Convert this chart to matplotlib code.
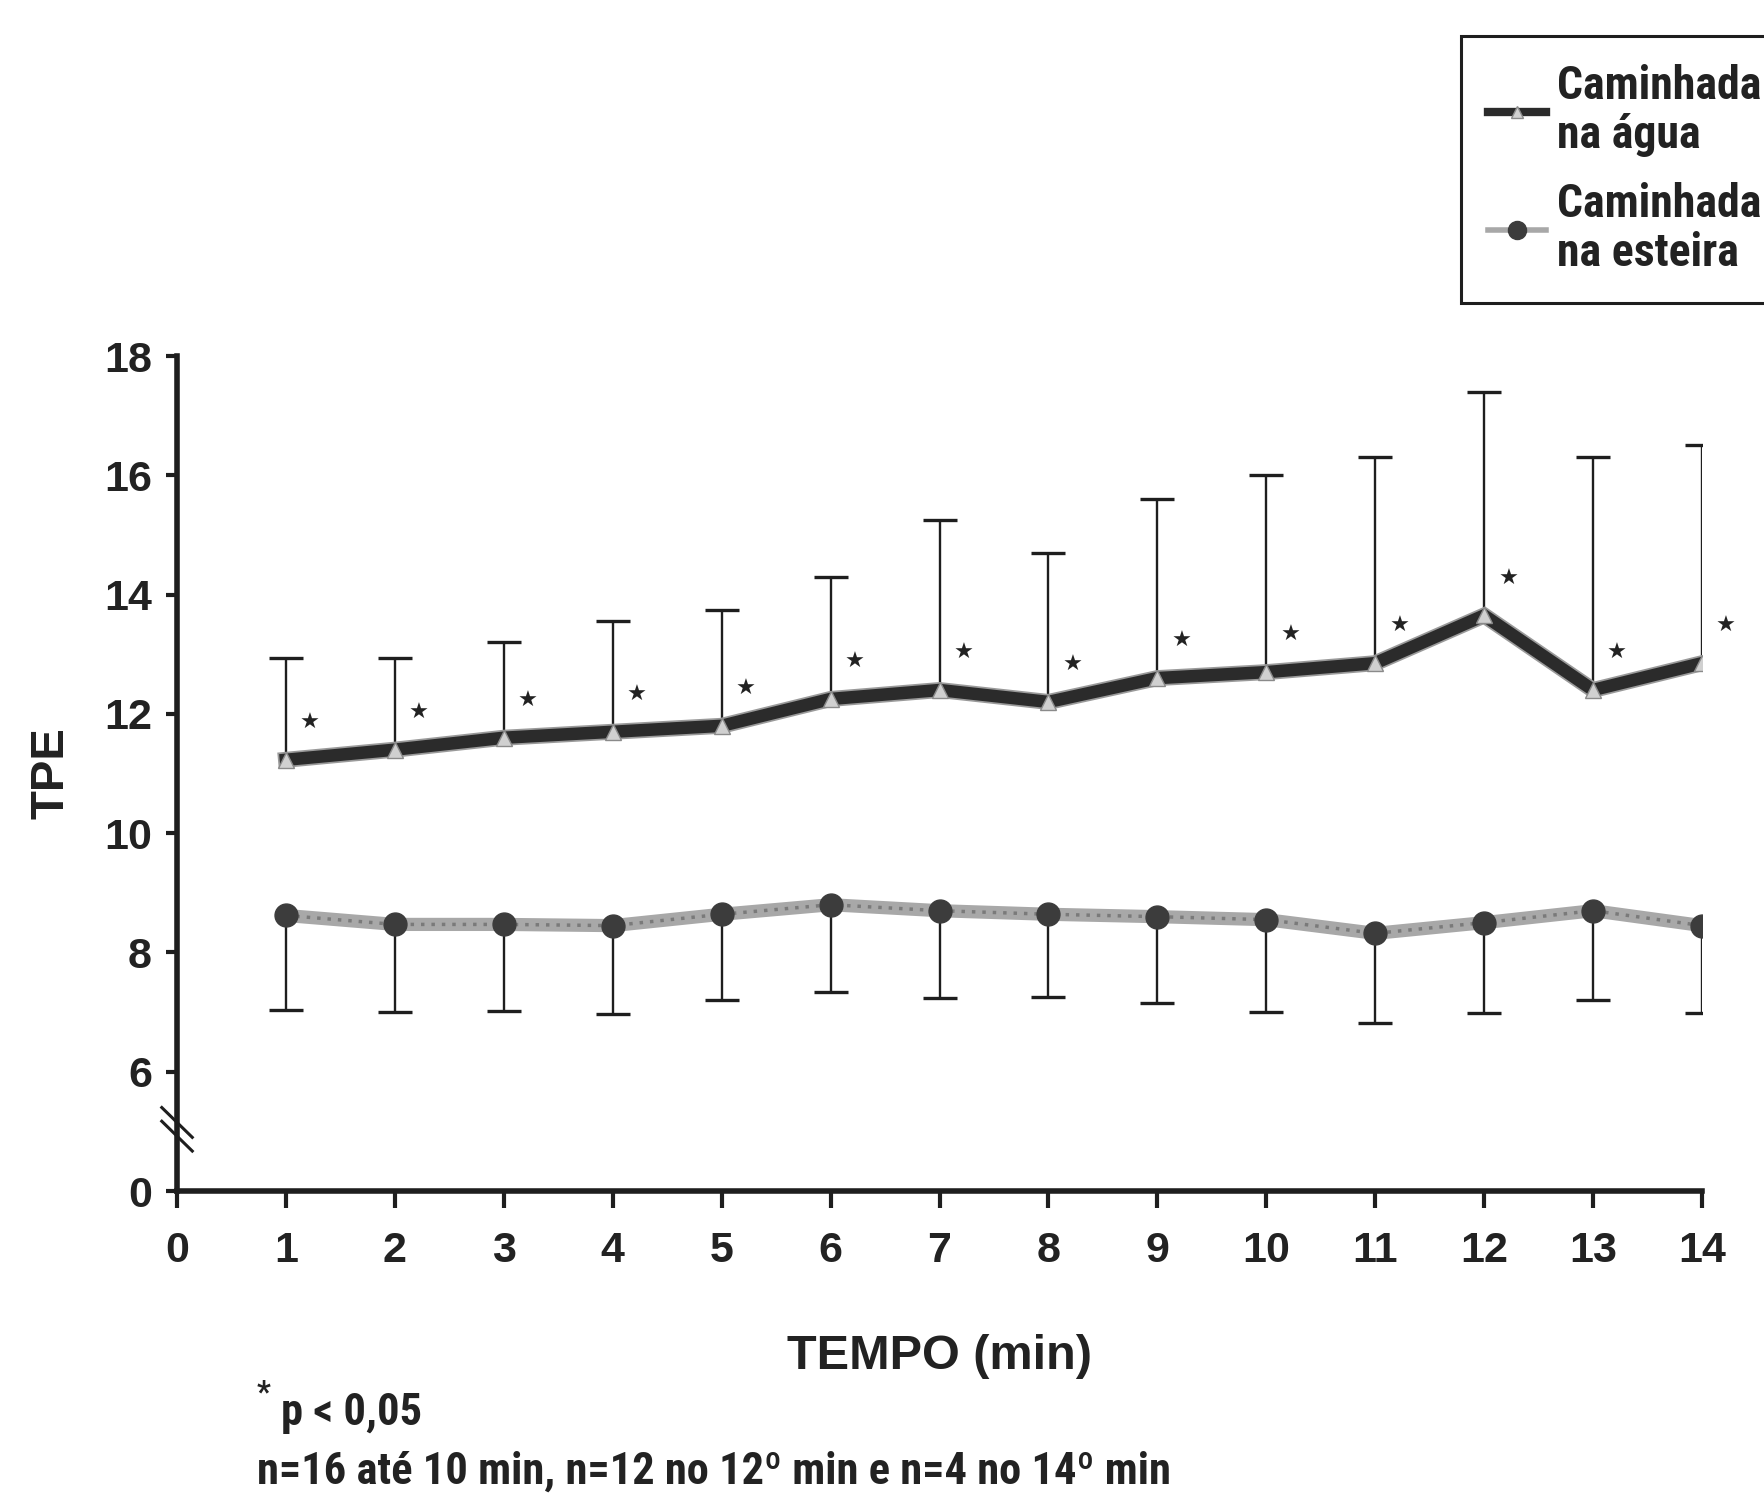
import matplotlib
matplotlib.use("Agg")
import matplotlib.pyplot as plt
from matplotlib.lines import Line2D
from matplotlib import font_manager

# pick a narrow font if installed (reference uses condensed Helvetica)
def pick(names):
    for n in names:
        try:
            font_manager.findfont(n, fallback_to_default=False)
            return n
        except Exception:
            pass
    return "DejaVu Sans"

NARROW = pick(["Liberation Sans Narrow", "Roboto Condensed", "Liberation Sans"])
REG = pick(["Liberation Sans", "DejaVu Sans"])

tempo = [1, 2, 3, 4, 5, 6, 7, 8, 9, 10, 11, 12, 13, 14]

agua_media = [11.23, 11.4, 11.6, 11.7, 11.8, 12.25, 12.4, 12.2, 12.6, 12.7, 12.85, 13.65, 12.4, 12.85]
agua_sup = [12.93, 12.93, 13.2, 13.55, 13.75, 14.3, 15.25, 14.7, 15.6, 16.0, 16.3, 17.4, 16.3, 16.5]

esteira_media = [8.62, 8.47, 8.47, 8.45, 8.64, 8.8, 8.7, 8.64, 8.6, 8.55, 8.32, 8.5, 8.7, 8.45]
esteira_inf = [7.04, 7.0, 7.02, 6.96, 7.2, 7.34, 7.23, 7.25, 7.15, 7.0, 6.81, 6.98, 7.2, 6.98]

# y positions: "0" is drawn where 4 would be (broken axis)
ytick_pos = [4, 6, 8, 10, 12, 14, 16, 18]
ytick_lab = ["0", "6", "8", "10", "12", "14", "16", "18"]
xticks = list(range(0, 15))

INK = "#1e1e1e"

fig = plt.figure(figsize=(17.65, 14.94), dpi=100)
ax = fig.add_axes([0.1003, 0.2028, 0.8640, 0.5589])

# one-sided error bars: stem + cap only at the far end
ax.vlines(tempo, agua_media, agua_sup, color=INK, lw=1.7, zorder=2)
ax.plot(tempo, agua_sup, ls="none", marker="_", ms=24, mew=2.4, color=INK, zorder=2)
ax.vlines(tempo, esteira_inf, esteira_media, color=INK, lw=1.7, zorder=2)
ax.plot(tempo, esteira_inf, ls="none", marker="_", ms=24, mew=2.4, color=INK, zorder=2)

# water walking: thick dark line with small hatched triangles
ax.plot(tempo, agua_media, color="#9a9a9a", lw=11.5, solid_joinstyle="miter", zorder=3)
ax.plot(tempo, agua_media, color="#2b2b2b", lw=9, solid_joinstyle="miter", zorder=4)
ax.plot(tempo, agua_media, ls="none", marker="^", ms=11, mfc="#d0d0d0",
        mec="#8a8a8a", mew=1.0, zorder=5)

# treadmill walking: light gray textured line with dark circles
ax.plot(tempo, esteira_media, color="#a8a8a8", lw=9.5, zorder=3)
ax.plot(tempo, esteira_media, color="#7a7a7a", lw=2.5, ls=(0, (1, 2)), zorder=3.5)
ax.plot(tempo, esteira_media, ls="none", marker="o", ms=16.5, mfc="#3c3c3c",
        mec="#3c3c3c", zorder=5)

# significance stars
for x, m in zip(tempo, agua_media):
    ax.text(x + 0.22, m + 0.62, "\u2605", fontsize=16, ha="center", va="center",
            color="#222222", family="DejaVu Sans", clip_on=False)

ax.set_xlim(0, 14)
ax.set_ylim(4, 18)
ax.set_xticks(xticks)
ax.set_xticklabels([str(t) for t in xticks])
ax.set_yticks(ytick_pos)
ax.set_yticklabels(ytick_lab)

for s in ["top", "right"]:
    ax.spines[s].set_visible(False)
ax.spines["left"].set_linewidth(4)
ax.spines["bottom"].set_linewidth(4)
ax.spines["left"].set_color(INK)
ax.spines["bottom"].set_color(INK)
ax.tick_params(axis="y", direction="out", length=8, width=3, pad=10, color=INK)
ax.tick_params(axis="x", direction="out", length=12, width=3, pad=17, color=INK)
for lab in ax.get_xticklabels() + ax.get_yticklabels():
    lab.set_fontfamily(REG)
    lab.set_fontsize(31)
    lab.set_fontweight("bold")
    lab.set_color("#222222")

# axis break marks
for yc in (5.15, 4.92):
    ax.plot([-0.14, 0.14], [yc + 0.25, yc - 0.25], color=INK, lw=2.2,
            clip_on=False, zorder=6)

ax.set_xlabel("TEMPO (min)", fontsize=35, fontweight="bold", family=REG,
              color="#222222", labelpad=45)
ax.set_ylabel("TPE", fontsize=34, fontweight="bold", family=REG,
              color="#222222", labelpad=22)

# legend
h1 = Line2D([], [], color="#2b2b2b", lw=6, marker="^", ms=8, mfc="#d0d0d0", mec="#8a8a8a")
h2 = Line2D([], [], color="#a8a8a8", lw=4, marker="o", ms=13, mfc="#3c3c3c", mec="#3c3c3c")
leg = ax.legend([h1, h2], ["Caminhada\nna água", "Caminhada\nna esteira"],
                loc="upper left", bbox_to_anchor=(1461 / 1765, 1 - 36 / 1494),
                bbox_transform=fig.transFigure, borderaxespad=0, frameon=True,
                fancybox=False, framealpha=1, edgecolor=INK, handlelength=1.25,
                handletextpad=0.25, borderpad=0.6, labelspacing=0.55,
                prop={"family": NARROW, "weight": "bold", "size": 33})
leg.get_frame().set_linewidth(2.2)
for t in leg.get_texts():
    t.set_color("#222222")
    t.set_linespacing(1.15)

# footnotes
fig.text(257 / 1765, 1 - 1392 / 1494, "*", fontsize=22, fontweight="bold",
         family=NARROW, ha="left", va="center", color="#222222")
fig.text(281 / 1765, 1 - 1413 / 1494, "p < 0,05", fontsize=32, fontweight="bold",
         family=NARROW, ha="left", va="center", color="#222222")
fig.text(257 / 1765, 1 - 1472 / 1494,
         "n=16 até 10 min, n=12 no 12º min e n=4 no 14º min", fontsize=32,
         fontweight="bold", family=NARROW, ha="left", va="center", color="#222222")

fig.savefig("out.png", dpi=100)
